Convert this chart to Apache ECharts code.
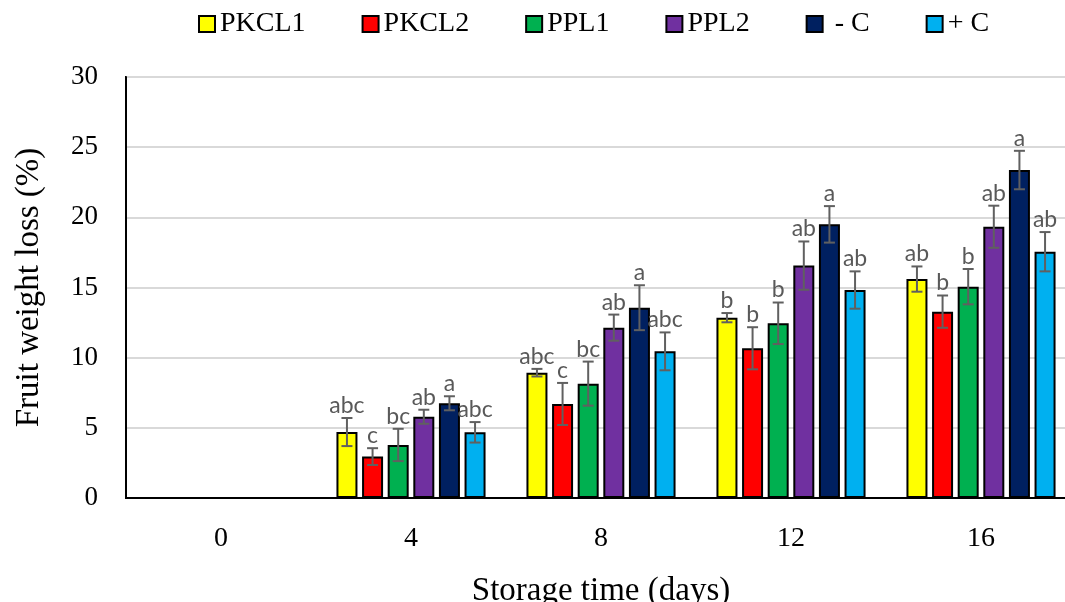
<!DOCTYPE html>
<html>
<head>
<meta charset="utf-8">
<script src="https://cdn.jsdelivr.net/npm/echarts@6/dist/echarts.min.js"></script>
<style>html,body{margin:0;padding:0;background:#fff}#c{width:1065px;height:602px}</style>
</head>
<body>
<div id="c"></div>
<script>
const categories = ['0', '4', '8', '12', '16'];
const seriesNames = ['PKCL1', 'PKCL2', 'PPL1', 'PPL2', ' - C', '+ C'];

const PKCL1 = [null, 4.70, 8.93, 12.85, 15.60];
const PKCL2 = [null, 2.95, 6.70, 10.67, 13.28];
const PPL1  = [null, 3.78, 8.15, 12.45, 15.06];
const PPL2  = [null, 5.79, 12.14, 16.56, 19.33];
const negC  = [null, 6.75, 13.56, 19.50, 23.37];
const posC  = [null, 4.68, 10.45, 14.82, 17.55];

const PKCL1_err = [null, 1.00, 0.27, 0.33, 0.90];
const PKCL2_err = [null, 0.60, 1.50, 1.50, 1.15];
const PPL1_err  = [null, 1.15, 1.57, 1.48, 1.26];
const PPL2_err  = [null, 0.50, 0.93, 1.72, 1.50];
const negC_err  = [null, 0.50, 1.60, 1.30, 1.37];
const posC_err  = [null, 0.73, 1.35, 1.33, 1.40];

const PKCL1_lbl = ['', 'abc', 'abc', 'b', 'ab'];
const PKCL2_lbl = ['', 'c', 'c', 'b', 'b'];
const PPL1_lbl  = ['', 'bc', 'bc', 'b', 'b'];
const PPL2_lbl  = ['', 'ab', 'ab', 'ab', 'ab'];
const negC_lbl  = ['', 'a', 'a', 'a', 'a'];
const posC_lbl  = ['', 'abc', 'abc', 'ab', 'ab'];

const yTicks = { min: 0, max: 30, interval: 5 };

const values = [PKCL1, PKCL2, PPL1, PPL2, negC, posC];
const errs = [PKCL1_err, PKCL2_err, PPL1_err, PPL2_err, negC_err, posC_err];
const lbls = [PKCL1_lbl, PKCL2_lbl, PPL1_lbl, PPL2_lbl, negC_lbl, posC_lbl];
const colors = ['#FFFF00', '#FF0000', '#00B050', '#7030A0', '#002060', '#00B0F0'];

const BAR_W = 21;
const GAP_RATIO = 0.22;
const PITCH = BAR_W * (1 + GAP_RATIO);
const N = values.length;

const serif = '"Liberation Serif", "DejaVu Serif", serif';

const series = [];
values.forEach((vals, s) => {
  series.push({
    name: seriesNames[s],
    type: 'bar',
    data: vals.map(v => v === null ? '-' : v),
    barWidth: BAR_W,
    barGap: (GAP_RATIO * 100) + '%',
    itemStyle: { color: colors[s], borderColor: '#000', borderWidth: 2 },
    z: 2
  });
});
values.forEach((vals, s) => {
  const data = [];
  vals.forEach((v, i) => { if (v !== null) data.push([i, v, errs[s][i], s]); });
  const offset = (s - (N - 1) / 2) * PITCH;
  series.push({
    name: seriesNames[s] + '_err',
    type: 'custom',
    z: 5,
    silent: true,
    data: data,
    encode: { x: 0, y: 1 },
    renderItem: function (params, api) {
      const ci = api.value(0), v = api.value(1), e = api.value(2);
      const c = api.coord([ci, v]);
      const hi = api.coord([ci, v + e]);
      const lo = api.coord([ci, v - e]);
      const cx = c[0] + offset;
      const cap = 5.5;
      const st = { stroke: '#606060', lineWidth: 2 };
      const label = lbls[s][ci];
      return {
        type: 'group',
        children: [
          { type: 'line', shape: { x1: cx, y1: hi[1], x2: cx, y2: lo[1] }, style: st },
          { type: 'line', shape: { x1: cx - cap, y1: hi[1], x2: cx + cap, y2: hi[1] }, style: st },
          { type: 'line', shape: { x1: cx - cap, y1: lo[1], x2: cx + cap, y2: lo[1] }, style: st },
          { type: 'text', x: cx, y: hi[1] - 1, style: { text: label, fill: '#595959', font: '23px Lato, "Open Sans", sans-serif', align: 'center', verticalAlign: 'bottom' } }
        ]
      };
    }
  });
});

const chart = echarts.init(document.getElementById('c'), null, { renderer: 'canvas' });
chart.setOption({
  animation: false,
  backgroundColor: '#fff',
  legend: {
    data: seriesNames,
    top: 5,
    left: 193,
    itemWidth: 16,
    itemHeight: 16,
    itemGap: 56,
    icon: 'rect',
    textStyle: { fontFamily: serif, fontSize: 28, color: '#000' }
  },
  grid: {
    left: 126, top: 77, width: 950, height: 421,
    outerBoundsMode: 'none',
    containLabel: false,
    show: true, borderColor: '#000', borderWidth: 2, backgroundColor: 'transparent'
  },
  xAxis: {
    type: 'category',
    data: categories,
    name: 'Storage time (days)',
    nameLocation: 'middle',
    nameGap: 77,
    nameTextStyle: { fontFamily: serif, fontSize: 33, color: '#000' },
    axisLine: { show: true, lineStyle: { color: '#000', width: 2 } },
    axisTick: { show: false },
    axisLabel: { fontFamily: serif, fontSize: 28, color: '#000', margin: 27 }
  },
  yAxis: {
    type: 'value',
    min: yTicks.min, max: yTicks.max, interval: yTicks.interval,
    name: 'Fruit weight loss (%)',
    nameLocation: 'middle',
    nameGap: 80,
    nameTextStyle: { fontFamily: serif, fontSize: 33, color: '#000' },
    axisLine: { show: true, lineStyle: { color: '#000', width: 2 } },
    axisTick: { show: false },
    splitLine: { lineStyle: { color: '#d9d9d9', width: 2 } },
    axisLabel: { fontFamily: serif, fontSize: 27, color: '#000', margin: 28 }
  },
  series: series
});
</script>
</body>
</html>
